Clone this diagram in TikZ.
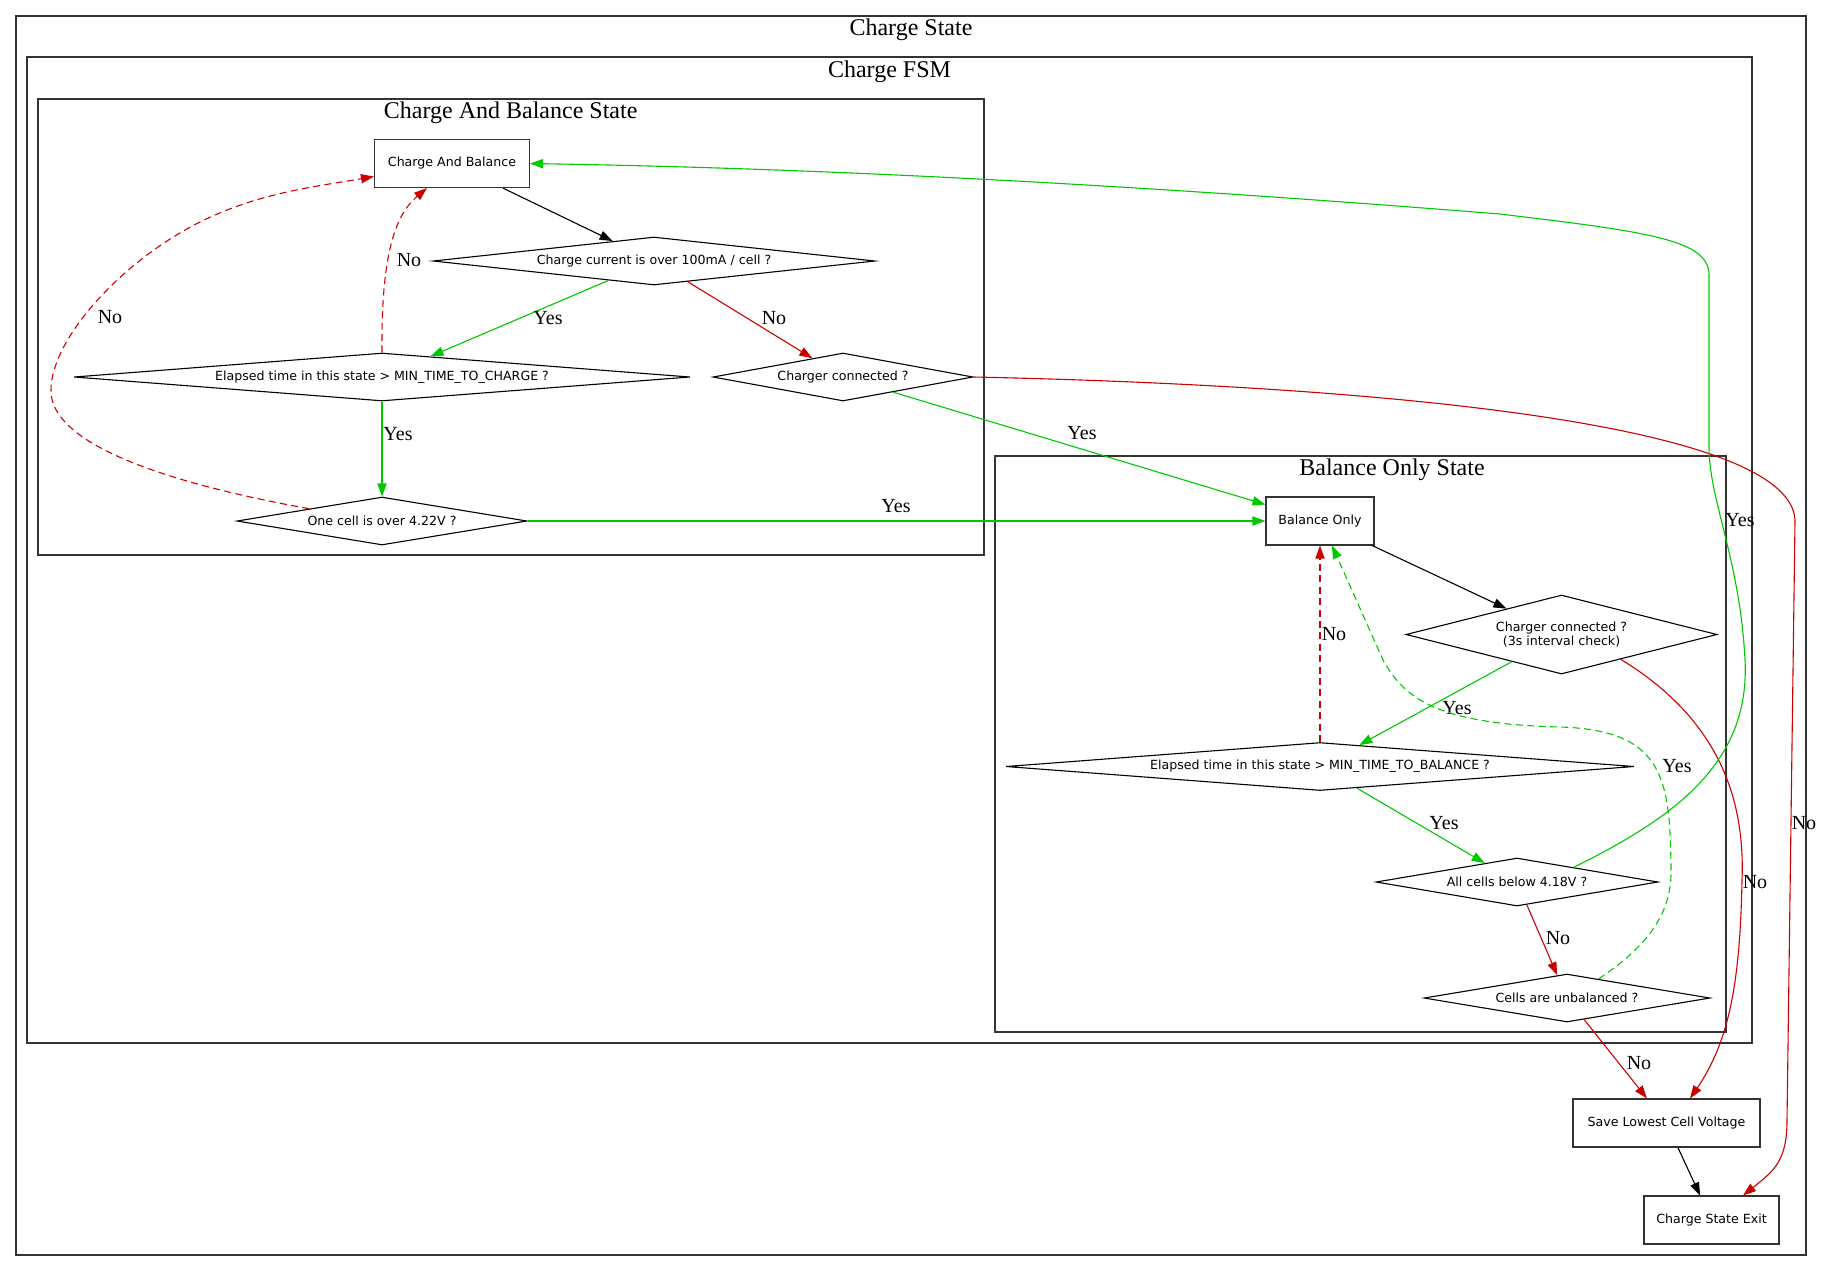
\documentclass[tikz,border=0pt]{standalone}
\usepackage{fontspec}
\usetikzlibrary{arrows.meta, shapes.geometric, calc}
\newfontfamily\boxface{DejaVu Sans}
\newfontfamily\titleface{Liberation Serif}
\definecolor{cgreen}{HTML}{00C800}
\definecolor{cred}{HTML}{CD0000}
\tikzset{
  every picture/.style={line width=0.55pt},
  actbox/.style={draw=black!80, rectangle, minimum width=#1, minimum height=24pt, inner sep=0pt, font=\boxface\fontsize{6.3}{6.8}\selectfont},
  decision/.style n args={3}{draw, diamond, minimum width=#1, minimum height=#2, aspect=#3, inner sep=0pt, align=center, font=\boxface\fontsize{6.3}{6.8}\selectfont},
  cluster/.style={draw=black!80, line width=0.7pt},
  ctitle/.style={font=\titleface\fontsize{12}{14}\selectfont, inner sep=0pt},
  lbl/.style={font=\titleface\fontsize{10}{12}\selectfont, inner sep=0pt},
  flow/.style={-{Triangle[length=6.5pt, width=4.6pt]}},
  yesarrow/.style={flow, draw=cgreen},
  noarrow/.style={flow, draw=cred},
  loopback/.style={dash pattern=on 3.5pt off 2.2pt},
}

\begin{document}
\begin{tikzpicture}[x=0.5pt, y=-0.5pt]
  \useasboundingbox (0,0) rectangle (1824,1271);
  % clusters
  \draw[cluster] (16,16) rectangle (1806,1255);
  \draw[cluster] (27,57) rectangle (1752,1043);
  \draw[cluster] (38,99) rectangle (984,555);
  \draw[cluster] (995,456) rectangle (1726,1032);
  \node[ctitle] (csTitle) at (911,30) {Charge State};
  \node[ctitle] (fsmTitle) at (889.5,72) {Charge FSM};
  \node[ctitle] (cabTitle) at (510.7,113) {Charge And Balance State};
  \node[ctitle] (boTitle) at (1392,470) {Balance Only State};

  % charge and balance
  \node[actbox=77.5pt] (cab) at (452,163.5) {Charge And Balance};
  \node[decision={221pt}{24pt}{9.2}] (cc) at (654,261) {Charge current is over 100mA / cell ?};
  \node[decision={308pt}{24pt}{12.8}] (etc) at (382,377) {Elapsed time in this state > MIN\_TIME\_TO\_CHARGE ?};
  \node[decision={130pt}{24pt}{5.4}] (ccon) at (843,377) {Charger connected ?};
  \node[decision={145pt}{24pt}{6.0}] (onecell) at (382,521) {One cell is over 4.22V ?};

  % balance only
  \node[actbox=54pt] (bo) at (1320,521) {Balance Only};
  \node[decision={155.5pt}{39.5pt}{3.9}] (ccon3) at (1561.5,634.5) {Charger connected ?\\ (3s interval check)};
  \node[decision={314pt}{24pt}{13}] (etb) at (1320,766.5) {Elapsed time in this state > MIN\_TIME\_TO\_BALANCE ?};
  \node[decision={141pt}{24pt}{5.9}] (allc) at (1517,882) {All cells below 4.18V ?};
  \node[decision={143pt}{24pt}{6}] (unbal) at (1567,998) {Cells are unbalanced ?};

  % exit
  \node[actbox=93.5pt] (save) at (1666.5,1123) {Save Lowest Cell Voltage};
  \node[actbox=67.5pt] (exitn) at (1711.5,1220) {Charge State Exit};

  % edges
  \draw[flow] (cab) -- (cc);
  \draw[yesarrow] (cc) -- (etc) node[lbl] (l1) at (548,318) {Yes};
  \draw[noarrow] (cc) -- (ccon) node[lbl] (l2) at (774,318) {No};
  \draw[noarrow, loopback] (etc.north) .. controls (381,255) and (395,215) .. ([xshift=-12.5pt]cab.south)
    node[lbl] (l3) at (409,260) {No};
  \draw[yesarrow] (etc) -- (onecell) node[lbl] (l4) at (398,434) {Yes};
  \draw[noarrow, loopback] (onecell.north west) .. controls (150,480) and (50,440) .. (51,390)
    .. controls (51,340) and (120,262) .. (200,222) .. controls (260,192) and (320,186) .. ([yshift=-6.5pt]cab.west)
    node[lbl] (l5) at (110,317) {No};
  \draw[yesarrow] (onecell) -- (bo) node[lbl] (l6) at (896,506) {Yes};
  \draw[yesarrow] (ccon) -- (bo) node[lbl] (l7) at (1082,433) {Yes};
  \draw[noarrow] (ccon.east) .. controls (1350,385) and (1790,420) .. (1795,520) -- (1787,1120)
    .. controls (1787,1160) and (1775,1170) .. ([xshift=15.75pt]exitn.north)
    node[lbl] (l8) at (1804,823) {No};
  \draw[flow] (bo) -- (ccon3);
  \draw[yesarrow] (ccon3) -- (etb) node[lbl] (l9) at (1457,708) {Yes};
  \draw[noarrow] ($(ccon3.south)!0.38!(ccon3.east)$) .. controls (1720,720) and (1745,800) .. (1742,880)
    .. controls (1740,980) and (1730,1040) .. ([xshift=11.75pt]save.north)
    node[lbl] (l10) at (1755,882) {No};
  \draw[noarrow, loopback] (etb) -- (bo) node[lbl] (l11) at (1334,634) {No};
  \draw[yesarrow] (etb) -- (allc) node[lbl] (l12) at (1444,823) {Yes};
  \draw[yesarrow] ($(allc.north)!0.4!(allc.east)$) .. controls (1680,815) and (1750,760) .. (1745,660)
    .. controls (1740,560) and (1709,500) .. (1709,447) -- (1709,275)
    .. controls (1709,240) and (1650,232) .. (1500,214) .. controls (1100,182) and (800,168) .. (cab.east)
    node[lbl] (l13) at (1740,520) {Yes};
  \draw[noarrow] (allc) -- (unbal) node[lbl] (l14) at (1558,938) {No};
  \draw[yesarrow, loopback] ($(unbal.north)!0.22!(unbal.east)$) .. controls (1645,948) and (1672,915) .. (1671,870)
    .. controls (1670,780) and (1665,730) .. (1560,727) .. controls (1440,724) and (1405,700) .. (1383,660)
    -- ([xshift=6pt]bo.south)
    node[lbl] (l15) at (1677,766) {Yes};
  \draw[noarrow] (unbal) -- (save) node[lbl] (l16) at (1639,1063) {No};
  \draw[flow] (save) -- (exitn);
\end{tikzpicture}
\end{document}
